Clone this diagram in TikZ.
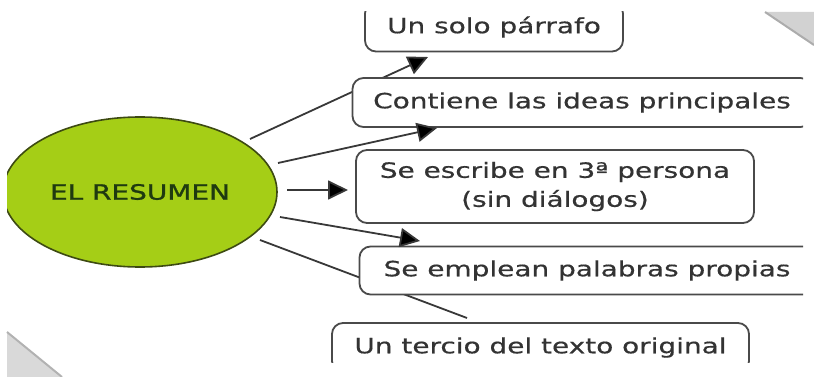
\documentclass[tikz,border=0pt]{standalone}
\usepackage{fontspec}
\setmainfont{DejaVu Sans}[FakeStretch=1.33]
\newfontfamily\ellfont{DejaVu Sans}[FakeStretch=1.33,FakeBold=1.2]
\newfontfamily\boxfont{DejaVu Sans}[FakeStretch=1.33,FakeBold=0.5]
\usetikzlibrary{arrows.meta,shapes.geometric,backgrounds}
\definecolor{txt}{HTML}{333333}
\definecolor{boxline}{HTML}{4A4A4A}
\definecolor{conn}{HTML}{383838}
\definecolor{lime}{RGB}{165,206,22}
\definecolor{limeline}{HTML}{3D4A12}
\definecolor{limetxt}{HTML}{1F3A10}
\begin{document}
\begin{tikzpicture}[x=1pt,y=-1pt,
  every node/.style={inner sep=0pt},
  idea/.style={draw=boxline, line width=1.8pt, fill=white, rounded corners=11pt,
     text=txt, font=\boxfont\fontsize{21}{29}\selectfont, align=center},
  conector/.style={draw=conn, line width=1.8pt},
  flecha/.style={conector, -{Triangle[length=20pt,width=19pt,fill=black]}}]
\useasboundingbox (0,0) rectangle (814,377);
\begin{scope}
\clip (7,12) rectangle (803,362);
\node[ellipse, draw=limeline, line width=1.6pt, fill=lime, minimum width=274pt, minimum height=150pt,
  text=limetxt, font=\ellfont\fontsize{21}{24}\selectfont] (e) at (140,192) {EL RESUMEN};
\node[idea, minimum width=258pt, minimum height=49pt] (b1) at (494,27) {Un solo párrafo};
\node[idea, minimum width=459pt, minimum height=49pt] (b2) at (582,102.5) {Contiene las ideas principales};
\node[idea, minimum width=398pt, minimum height=73pt] (b3) at (555,186.5) {Se escribe en 3ª persona\\(sin diálogos)};
\node[idea, minimum width=455pt, minimum height=48pt] (b4) at (587,270.5) {Se emplean palabras propias};
\node[idea, minimum width=417pt, minimum height=49pt] (b5) at (540.5,347.5) {Un tercio del texto original};
\coordinate (s1) at (250,139);
\coordinate (s2) at (278,163);
\coordinate (s3) at (287,190);
\coordinate (s4) at (280,217);
\coordinate (s5) at (260,240);
\coordinate (t1) at (428,57);
\coordinate (t2) at (437,128);
\coordinate (t3) at (348,190);
\coordinate (t4) at (420,241);
\coordinate (t5) at (467,318);
\begin{scope}[on background layer]
\draw[flecha] (s1) -- (t1);
\draw[conector] (s5) -- (t5);
\end{scope}
\draw[flecha] (s2) -- (t2);
\draw[flecha] (s3) -- (t3);
\draw[flecha] (s4) -- (t4);
\end{scope}
% page-curl corners
\fill[gray!35] (765,12) -- (814,12) -- (814,45) -- cycle;
\draw[gray!65, line width=2pt] (765,12) -- (814,45);
\fill[gray!30] (7,332) -- (62,377) -- (7,377) -- cycle;
\draw[gray!60, line width=2pt] (7,332) -- (62,377);
\end{tikzpicture}
\end{document}
